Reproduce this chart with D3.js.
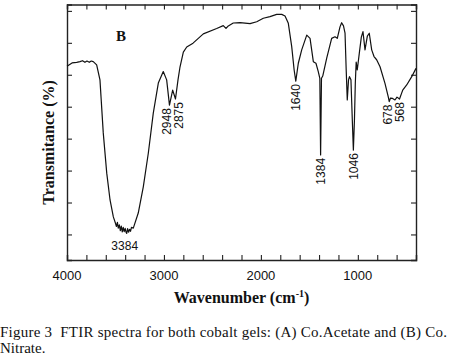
<!DOCTYPE html>
<html>
<head>
<meta charset="utf-8">
<script src="https://cdn.jsdelivr.net/npm/d3@7"></script>
<style>
  body { margin: 0; background: #fff; }
  text { fill: #111; }
</style>
</head>
<body>
<script>
// spectrum: wavenumber (cm-1) and transmittance (arbitrary %)
var wavenumbers = [4000, 3948, 3900, 3866, 3840, 3815, 3794, 3770, 3750, 3729, 3694, 3660, 3626, 3590, 3556, 3522, 3500, 3490, 3480, 3471, 3460, 3450, 3440, 3430, 3420, 3410, 3400, 3390, 3384, 3375, 3365, 3355, 3345, 3335, 3316, 3265, 3213, 3161, 3110, 3058, 3007, 2972, 2943, 2910, 2881, 2855, 2834, 2800, 2765, 2700, 2594, 2456, 2388, 2360, 2336, 2285, 2215, 2112, 2043, 1975, 1906, 1837, 1785, 1751, 1717, 1682, 1657, 1640, 1614, 1579, 1527, 1493, 1459, 1432, 1408, 1392, 1384, 1375, 1362, 1321, 1270, 1236, 1212, 1184, 1167, 1148, 1132, 1120, 1109, 1096, 1086, 1071, 1057, 1046, 1035, 1026, 1017, 1006, 985, 964, 947, 926, 902, 882, 857, 833, 806, 771, 720, 686, 676, 663, 641, 617, 596, 570, 537, 496, 444, 400];
var transmittance = [62.7, 63.7, 63.9, 64.1, 64.4, 63.9, 64.3, 63.9, 64.3, 64.1, 63.1, 58.4, 41.8, 29.2, 20.8, 15.5, 13.5, 12.5, 13.8, 12.0, 13.0, 11.2, 12.6, 10.8, 12.2, 10.9, 11.9, 10.6, 10.3, 11.8, 10.7, 11.6, 11.0, 12.2, 12.0, 16.7, 24.9, 35.5, 48.0, 57.4, 61.0, 58.4, 50.5, 55.2, 52.4, 58.4, 62.5, 67.1, 68.7, 69.9, 72.8, 74.5, 75.4, 74.5, 75.3, 76.2, 76.3, 76.0, 76.6, 77.7, 78.2, 78.9, 78.9, 78.4, 76.1, 68.8, 61.5, 58.0, 63.6, 67.8, 72.4, 71.4, 64.1, 63.6, 61.0, 58.9, 34.9, 58.9, 59.6, 65.2, 71.4, 71.9, 71.4, 75.0, 76.3, 75.3, 73.0, 61.5, 52.1, 58.4, 59.4, 58.4, 45.8, 36.4, 45.8, 57.4, 64.0, 61.5, 66.7, 71.8, 73.5, 67.8, 72.1, 73.0, 67.8, 65.7, 64.7, 62.5, 57.3, 53.1, 51.6, 52.7, 52.6, 52.1, 53.0, 52.4, 55.2, 56.8, 59.4, 62.0];

var peakLabels = [2948, 2875, 1640, 1384, 1046, 678, 568];
var mainPeak = 3384;
var xTickLabels = [4000, 3000, 2000, 1000];
var yTicks = [10, 20, 30, 40, 50, 60, 70, 80];

var data = wavenumbers.map(function(w, i) { return { wn: w, t: transmittance[i] }; });

var W = 462, H = 357;
var svg = d3.select("body").append("svg")
  .attr("width", W)
  .attr("height", H);

var x = d3.scaleLinear().domain([4000, 400]).range([67, 416]);
var y = d3.scaleLinear().domain([2, 82]).range([260, 4.5]);

// axes, ticks pointing inward on all four sides
var minor = d3.range(400, 4001, 200);
var bottom = svg.append("g").attr("transform", "translate(0,260)")
  .call(d3.axisBottom(x).tickValues(minor).tickSize(-5).tickFormat(""));
var top = svg.append("g").attr("transform", "translate(0,4.5)")
  .call(d3.axisTop(x).tickValues(minor).tickSize(-5).tickFormat(""));
var left = svg.append("g").attr("transform", "translate(67,0)")
  .call(d3.axisLeft(y).tickValues(yTicks).tickSize(-5).tickFormat(""));
var right = svg.append("g").attr("transform", "translate(416,0)")
  .call(d3.axisRight(y).tickValues(yTicks).tickSize(-5).tickFormat(""));

svg.selectAll(".domain").attr("stroke", "#222").attr("stroke-width", 1.4);
svg.selectAll(".tick line").attr("stroke", "#222").attr("stroke-width", 1.1);

svg.selectAll(".xlab")
  .data(xTickLabels)
  .enter().append("text")
  .attr("x", function(d) { return x(d); })
  .attr("y", 280)
  .attr("text-anchor", "middle")
  .style("font", "13px 'Liberation Sans', Arial, sans-serif")
  .text(function(d) { return d; });

// spectrum
var line = d3.line()
  .x(function(d) { return x(d.wn); })
  .y(function(d) { return y(d.t); });

svg.append("path")
  .datum(data)
  .attr("d", line)
  .attr("fill", "none")
  .attr("stroke", "#111")
  .attr("stroke-width", 1.2)
  .attr("stroke-linejoin", "round");

// peak labels
function valueAt(w) {
  var best = data[0];
  data.forEach(function(d) { if (Math.abs(d.wn - w) < Math.abs(best.wn - w)) best = d; });
  return best.t;
}
var nudge = { 2948: -2, 2875: 3, 1384: 0, 1046: 0, 678: -1, 568: 0 };

svg.selectAll(".peak")
  .data(peakLabels)
  .enter().append("text")
  .attr("transform", function(d) {
    var px = x(d) + (nudge[d] || 0);
    var py = y(valueAt(d)) + 3;
    return "translate(" + px + "," + py + ") rotate(-90)";
  })
  .attr("dy", "0.35em")
  .attr("text-anchor", "end")
  .style("font", "12px 'Liberation Sans', Arial, sans-serif")
  .text(function(d) { return d; });

svg.append("text")
  .attr("x", x(mainPeak) - 2)
  .attr("y", y(valueAt(mainPeak)) + 17)
  .attr("text-anchor", "middle")
  .style("font", "12px 'Liberation Sans', Arial, sans-serif")
  .text(mainPeak);

svg.append("text")
  .attr("x", 121)
  .attr("y", 40.5)
  .attr("text-anchor", "middle")
  .style("font", "bold 15px 'Liberation Serif', 'Times New Roman', serif")
  .text("B");

// axis titles
var xt = svg.append("text")
  .attr("x", 241.5)
  .attr("y", 303)
  .attr("text-anchor", "middle")
  .style("font", "bold 16px 'Liberation Serif', 'Times New Roman', serif");
xt.append("tspan").text("Wavenumber (cm");
xt.append("tspan").attr("dy", -6).style("font-size", "10px").text("-1");
xt.append("tspan").attr("dy", 6).text(")");

svg.append("text")
  .attr("transform", "translate(53.5,142.5) rotate(-90)")
  .attr("text-anchor", "middle")
  .style("font", "bold 16px 'Liberation Serif', 'Times New Roman', serif")
  .text("Transmitance (%)");

// caption
svg.append("text")
  .attr("x", 0)
  .attr("y", 337)
  .attr("textLength", 447)
  .attr("lengthAdjust", "spacing")
  .style("white-space", "pre")
  .style("font", "15px 'Liberation Serif', 'Times New Roman', serif")
  .text("Figure 3  FTIR spectra for both cobalt gels: (A) Co.Acetate and (B) Co.");

svg.append("text")
  .attr("x", 0)
  .attr("y", 353)
  .style("font", "15px 'Liberation Serif', 'Times New Roman', serif")
  .text("Nitrate.");
</script>
</body>
</html>
